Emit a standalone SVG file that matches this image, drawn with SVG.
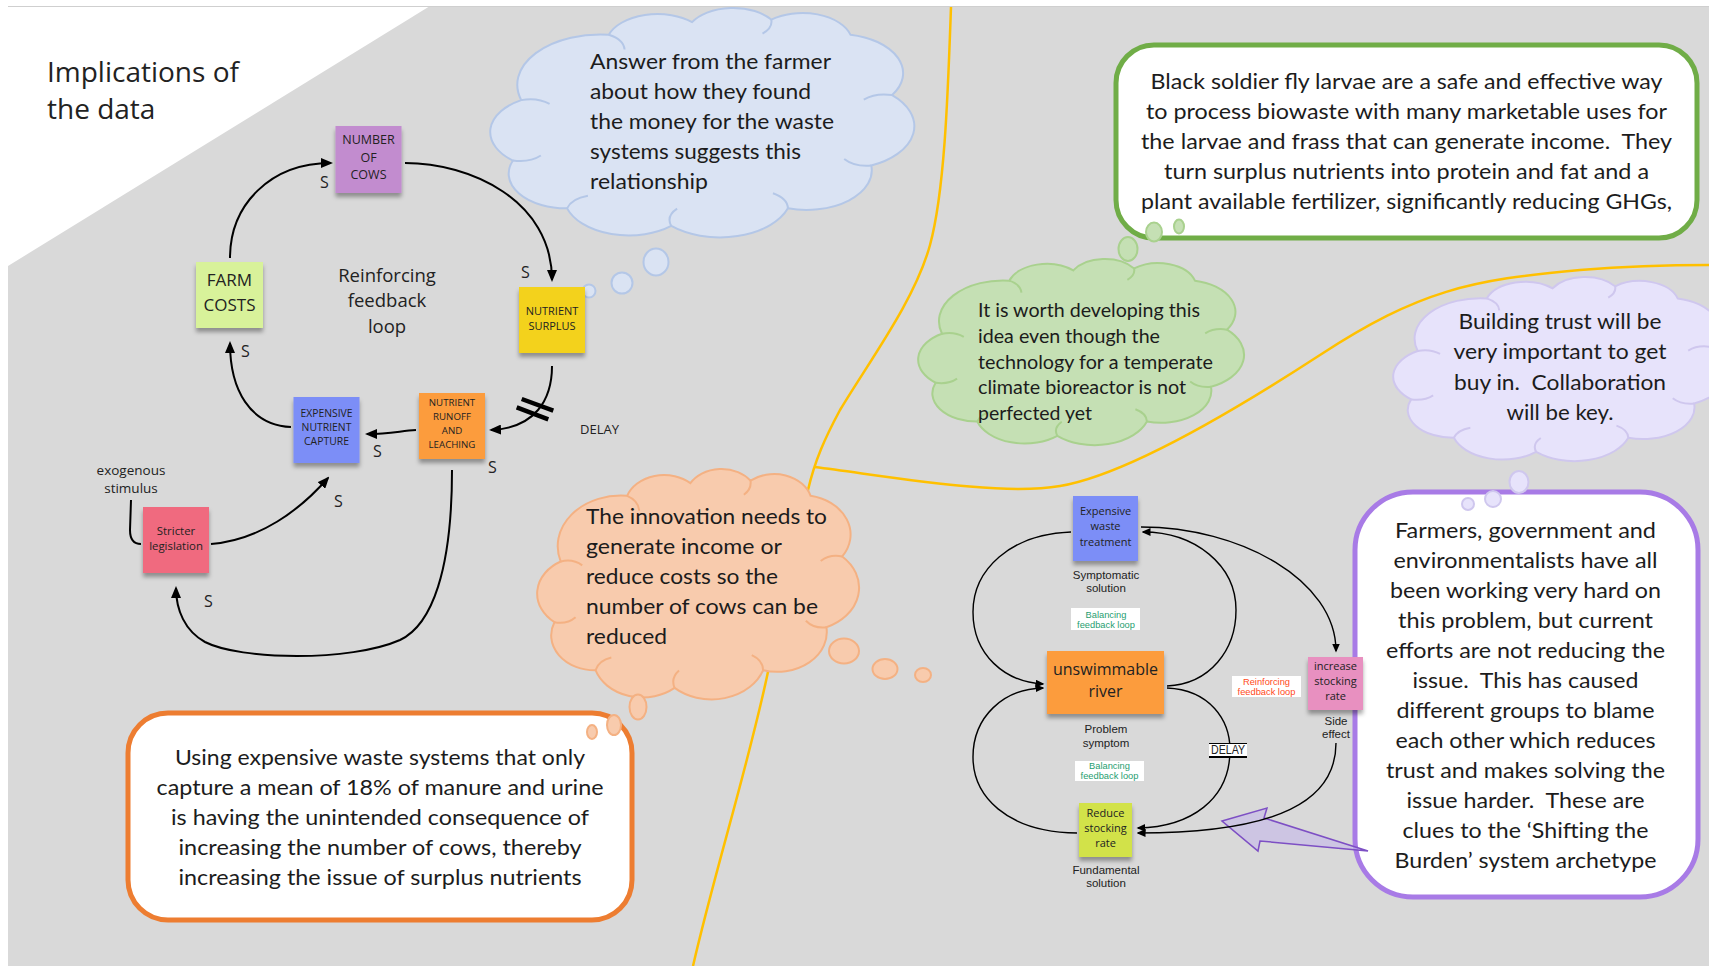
<svg xmlns="http://www.w3.org/2000/svg" width="1709" height="966" viewBox="0 0 1709 966">
<defs>
<style>
.cal{font-family:Lato,"Open Sans","Liberation Sans",sans-serif;fill:#1c1c1c}
.os{font-family:"Open Sans","Liberation Sans",sans-serif;fill:#222}
.ar{font-family:"Liberation Sans",Arial,sans-serif;fill:#222}
.mid{text-anchor:middle}
.pre{white-space:pre}
.link{fill:none;stroke:#000;stroke-width:2}
.link2{fill:none;stroke:#000;stroke-width:1.4}
.yl{fill:none;stroke:#ffc000;stroke-width:2.5}
.cl{vector-effect:non-scaling-stroke;stroke-width:2}
.cla{vector-effect:non-scaling-stroke;stroke-width:2;fill:none}
.note{filter:url(#noteShadow)}
.tag{fill:#fff}
.bal{font-family:"Liberation Sans",Arial,sans-serif;fill:#1f9e70;font-size:9.3px;text-anchor:middle}
.blue{fill:#dae3f3;stroke:#b4c7e7}
.peach{fill:#f8cbad;stroke:#f4b183}
.green{fill:#c5e0b4;stroke:#a9d18e}
.lav{fill:#e7e3fb;stroke:#cfc7ee}
</style>
<marker id="ah" viewBox="0 0 12 10" refX="10" refY="5" markerWidth="12" markerHeight="10" markerUnits="userSpaceOnUse" orient="auto"><path d="M0,0 L12,5 L0,10 Z" fill="#000"/></marker>
<marker id="ahs" viewBox="0 0 9 8" refX="7.5" refY="4" markerWidth="9" markerHeight="8" markerUnits="userSpaceOnUse" orient="auto"><path d="M0,0 L9,4 L0,8 Z" fill="#000"/></marker>
<filter id="noteShadow" x="-15%" y="-15%" width="130%" height="140%"><feDropShadow dx="0" dy="4" stdDeviation="2.2" flood-color="#000" flood-opacity="0.35"/></filter>
<!-- cloud outline in a 100x100 unit box, scaled per bubble -->
<path id="cloudShape" class="cl" d="M6,40 A20,20 0 0 1 27,14 A12.4,12.4 0 0 1 47,9 A11.4,11.4 0 0 1 66,8 A12,12 0 0 1 85,14 A15.6,15.6 0 0 1 95,38 A17,17 0 0 1 90,66 A15.7,15.7 0 0 1 70,83 A17.3,17.3 0 0 1 42,90 A15.6,15.6 0 0 1 17,83 A13.8,13.8 0 0 1 4,64 A14.5,14.5 0 0 1 6,40 Z"/>
<path id="cloudArcs" class="cla" d="M6,40 Q9.8,38.8 12.8,41.5 M27,14 Q30.6,15.9 30.8,19.9 M66,8 Q66.4,11.3 63.9,13.6 M95,38 Q91.1,37 88.2,39.8 M90,66 Q86,66.6 83.5,63.4 M70,83 Q69.9,79 66.4,77 M42,90 Q40.7,86.1 43.4,83.1 M17,83 Q18.1,79.1 22,78 M4,64 Q8,64.9 10.7,62"/>
</defs>

<!-- page -->
<rect x="0" y="0" width="1709" height="966" fill="#fff"/>
<rect x="8" y="6" width="1701" height="960" fill="#d9d9d9"/>
<polygon points="8,6 430,6 8,266" fill="#fff"/>
<line x1="8" y1="6.5" x2="1709" y2="6.5" stroke="#cfcfcf" stroke-width="1"/>

<!-- dividing lines -->
<g id="dividers">
<path class="yl" d="M951,7 C948,90 945,190 930,245 C915,300 870,360 840,410 C825,438 815,460 808,490 C798,540 780,620 769,667 C750,760 715,870 693,966"/>
<path class="yl" d="M815,467 C900,478 1000,496 1060,486 S1220,420 1320,355 S1470,280 1580,270 C1630,266 1680,265 1709,265"/>
</g>

<g id="title">
<text class="os" x="47" y="82" font-size="28" fill="#111">Implications of</text>
<text class="os" x="47" y="119" font-size="28" fill="#111">the data</text>
</g>

<!-- thought clouds -->
<g id="cloud-farmer">
<use href="#cloudShape" class="blue" transform="translate(496.25,-0.56) scale(4.167,2.517)"/>
<use href="#cloudArcs" stroke="#b4c7e7" transform="translate(496.25,-0.56) scale(4.167,2.517)"/>
<ellipse class="blue" cx="656" cy="262" rx="12.5" ry="13.5" stroke-width="2"/>
<ellipse class="blue" cx="622" cy="283" rx="10.5" ry="10.5" stroke-width="2"/>
<ellipse class="blue" cx="589" cy="291" rx="6.5" ry="6.5" stroke-width="2"/>
<text class="cal" x="590" y="69" font-size="22" textLength="241" lengthAdjust="spacingAndGlyphs">Answer from the farmer</text>
<text class="cal" x="590" y="99" font-size="22" textLength="221" lengthAdjust="spacingAndGlyphs">about how they found</text>
<text class="cal" x="590" y="129" font-size="22" textLength="244" lengthAdjust="spacingAndGlyphs">the money for the waste</text>
<text class="cal" x="590" y="159" font-size="22" textLength="211" lengthAdjust="spacingAndGlyphs">systems suggests this</text>
<text class="cal" x="590" y="188.5" font-size="22" textLength="118" lengthAdjust="spacingAndGlyphs">relationship</text>
</g>

<g id="cloud-innovation">
<use href="#cloudShape" class="peach" transform="translate(541.74,460.41) scale(3.163,2.528)"/>
<use href="#cloudArcs" stroke="#f4b183" transform="translate(541.74,460.41) scale(3.163,2.528)"/>
<ellipse class="peach" cx="844" cy="651" rx="15" ry="12.5" stroke-width="2"/>
<ellipse class="peach" cx="885" cy="669" rx="12.5" ry="10" stroke-width="2"/>
<ellipse class="peach" cx="923" cy="675" rx="8" ry="7" stroke-width="2"/>
<text class="cal" x="586" y="524" font-size="22" textLength="241" lengthAdjust="spacingAndGlyphs">The innovation needs to</text>
<text class="cal" x="586" y="554" font-size="22" textLength="196" lengthAdjust="spacingAndGlyphs">generate income or</text>
<text class="cal" x="586" y="584" font-size="22" textLength="192" lengthAdjust="spacingAndGlyphs">reduce costs so the</text>
<text class="cal" x="586" y="614" font-size="22" textLength="232" lengthAdjust="spacingAndGlyphs">number of cows can be</text>
<text class="cal" x="586" y="644" font-size="22" textLength="81" lengthAdjust="spacingAndGlyphs">reduced</text>
</g>

<g id="cloud-bioreactor">
<use href="#cloudShape" class="green" transform="translate(922.8,252.06) scale(3.202,2.042)"/>
<use href="#cloudArcs" stroke="#a9d18e" transform="translate(922.8,252.06) scale(3.202,2.042)"/>
<text class="cal" x="978" y="317" font-size="18.5" textLength="222" lengthAdjust="spacingAndGlyphs">It is worth developing this</text>
<text class="cal" x="978" y="343" font-size="18.5" textLength="182" lengthAdjust="spacingAndGlyphs">idea even though the</text>
<text class="cal" x="978" y="368.5" font-size="18.5" textLength="235" lengthAdjust="spacingAndGlyphs">technology for a temperate</text>
<text class="cal" x="978" y="394" font-size="18.5" textLength="208" lengthAdjust="spacingAndGlyphs">climate bioreactor is not</text>
<text class="cal" x="978" y="420" font-size="18.5" textLength="114" lengthAdjust="spacingAndGlyphs">perfected yet</text>
</g>

<g id="cloud-trust">
<use href="#cloudShape" class="lav" transform="translate(1397.94,270.13) scale(3.291,2.02)"/>
<use href="#cloudArcs" stroke="#cfc7ee" transform="translate(1397.94,270.13) scale(3.291,2.02)"/>
<text class="cal mid" x="1560" y="328.5" font-size="22" textLength="203" lengthAdjust="spacingAndGlyphs">Building trust will be</text>
<text class="cal mid" x="1560" y="359" font-size="22" textLength="213" lengthAdjust="spacingAndGlyphs">very important to get</text>
<text class="cal mid pre" x="1560" y="389.5" font-size="22" textLength="212" lengthAdjust="spacingAndGlyphs">buy in.  Collaboration</text>
<text class="cal mid" x="1560" y="419.5" font-size="22" textLength="107" lengthAdjust="spacingAndGlyphs">will be key.</text>
</g>

<!-- callout boxes -->
<g id="box-waste-systems">
<rect x="128" y="713" width="504" height="207" rx="40" fill="#fff" stroke="#ed7d31" stroke-width="5"/>
<ellipse class="peach" cx="638" cy="707" rx="8.5" ry="12.5" stroke-width="2"/>
<ellipse class="peach" cx="614" cy="725" rx="7" ry="10" stroke-width="2"/>
<ellipse class="peach" cx="592" cy="732" rx="5" ry="7" stroke-width="2"/>
<text class="cal mid" x="380" y="765" font-size="21" textLength="410" lengthAdjust="spacingAndGlyphs">Using expensive waste systems that only</text>
<text class="cal mid" x="380" y="795" font-size="21" textLength="447" lengthAdjust="spacingAndGlyphs">capture a mean of 18% of manure and urine</text>
<text class="cal mid" x="380" y="825" font-size="21" textLength="418" lengthAdjust="spacingAndGlyphs">is having the unintended consequence of</text>
<text class="cal mid" x="380" y="855" font-size="21" textLength="403" lengthAdjust="spacingAndGlyphs">increasing the number of cows, thereby</text>
<text class="cal mid" x="380" y="885" font-size="21" textLength="403" lengthAdjust="spacingAndGlyphs">increasing the issue of surplus nutrients</text>
</g>

<g id="box-larvae">
<rect x="1116" y="45" width="581" height="193" rx="38" fill="#fff" stroke="#70ad47" stroke-width="5"/>
<ellipse class="green" cx="1179" cy="226.5" rx="5" ry="7" stroke-width="2"/>
<ellipse class="green" cx="1154" cy="232" rx="8" ry="9.5" stroke-width="2"/>
<ellipse class="green" cx="1128" cy="249" rx="9.5" ry="12" stroke-width="2"/>
<text class="cal mid" x="1406.5" y="89" font-size="21" textLength="512" lengthAdjust="spacingAndGlyphs">Black soldier fly larvae are a safe and effective way</text>
<text class="cal mid" x="1406.5" y="119" font-size="21" textLength="521" lengthAdjust="spacingAndGlyphs">to process biowaste with many marketable uses for</text>
<text class="cal mid pre" x="1406.5" y="149" font-size="21" textLength="531" lengthAdjust="spacingAndGlyphs">the larvae and frass that can generate income.  They</text>
<text class="cal mid" x="1406.5" y="179" font-size="21" textLength="485" lengthAdjust="spacingAndGlyphs">turn surplus nutrients into protein and fat and a</text>
<text class="cal mid" x="1406.5" y="209" font-size="21" textLength="531" lengthAdjust="spacingAndGlyphs">plant available fertilizer, significantly reducing GHGs,</text>
</g>

<g id="box-blame">
<rect x="1355" y="492" width="343" height="405" rx="58" fill="#fff" stroke="#a87be6" stroke-width="5"/>
<ellipse class="lav" cx="1519" cy="482" rx="9.5" ry="11" stroke-width="2"/>
<ellipse class="lav" cx="1493" cy="499" rx="8" ry="8" stroke-width="2"/>
<ellipse class="lav" cx="1468" cy="504" rx="6" ry="6" stroke-width="2"/>
<text class="cal mid" x="1525.5" y="538" font-size="21" textLength="261" lengthAdjust="spacingAndGlyphs">Farmers, government and</text>
<text class="cal mid" x="1525.5" y="568" font-size="21" textLength="264" lengthAdjust="spacingAndGlyphs">environmentalists have all</text>
<text class="cal mid" x="1525.5" y="598" font-size="21" textLength="271" lengthAdjust="spacingAndGlyphs">been working very hard on</text>
<text class="cal mid" x="1525.5" y="628" font-size="21" textLength="255" lengthAdjust="spacingAndGlyphs">this problem, but current</text>
<text class="cal mid" x="1525.5" y="658" font-size="21" textLength="279" lengthAdjust="spacingAndGlyphs">efforts are not reducing the</text>
<text class="cal mid pre" x="1525.5" y="688" font-size="21" textLength="226" lengthAdjust="spacingAndGlyphs">issue.  This has caused</text>
<text class="cal mid" x="1525.5" y="718" font-size="21" textLength="258" lengthAdjust="spacingAndGlyphs">different groups to blame</text>
<text class="cal mid" x="1525.5" y="748" font-size="21" textLength="260" lengthAdjust="spacingAndGlyphs">each other which reduces</text>
<text class="cal mid" x="1525.5" y="778" font-size="21" textLength="279" lengthAdjust="spacingAndGlyphs">trust and makes solving the</text>
<text class="cal mid pre" x="1525.5" y="808" font-size="21" textLength="238" lengthAdjust="spacingAndGlyphs">issue harder.  These are</text>
<text class="cal mid" x="1525.5" y="838" font-size="21" textLength="246" lengthAdjust="spacingAndGlyphs">clues to the ‘Shifting the</text>
<text class="cal mid" x="1525.5" y="868" font-size="21" textLength="262" lengthAdjust="spacingAndGlyphs">Burden’ system archetype</text>
</g>

<g id="pointer-arrow">
<polygon points="1222,821 1267,808 1264,818 1368,851 1260,841 1258,851" fill="#c5b8ea" fill-opacity="0.6" stroke="#7d4fc4" stroke-width="1.5" stroke-linejoin="miter"/>
</g>

<!-- connectors -->
<g id="connectors">
<path class="link" marker-end="url(#ah)" d="M230,258 C230,205 270,163 331,163"/>
<path class="link" marker-end="url(#ah)" d="M405,163 C470,163 552,200 552,280"/>
<path class="link" marker-end="url(#ah)" d="M552,366 C552,400 535,428 491,430"/>
<path class="link" marker-end="url(#ah)" d="M416,430 C400,431 390,434 367,434"/>
<path class="link" marker-end="url(#ah)" d="M291,427 C250,425 230,390 230,343"/>
<path class="link" marker-end="url(#ah)" d="M452,470 C452,570 432,625 400,640 C350,662 240,660 205,642 C185,631 176,610 176,588"/>
<path class="link" marker-end="url(#ah)" d="M211,544 C260,540 300,510 328,478"/>
<path class="link" d="M131,500 L130,530 C130,540 134,544 141,544"/>
<line x1="521.7" y1="399" x2="553.3" y2="410.7" stroke="#000" stroke-width="4.5"/>
<line x1="516.7" y1="407.3" x2="548.3" y2="419.3" stroke="#000" stroke-width="4.5"/>

<path class="link2" marker-end="url(#ahs)" d="M1071,532 C1010,534 973,570 973,612 C973,655 1005,682 1043,684"/>
<path class="link2" marker-end="url(#ahs)" d="M1167,686 C1210,684 1236,650 1236,610 C1236,565 1195,532 1143,532"/>
<path class="link2" marker-end="url(#ahs)" d="M1077,833 C1005,832 973,795 973,757 C973,717 1003,689 1043,688"/>
<path class="link2" marker-end="url(#ahs)" d="M1167,688 C1210,690 1230,720 1230,750 C1230,800 1190,827 1138,828"/>
<path class="link2" marker-end="url(#ahs)" d="M1141,527 C1240,527 1336,580 1336,651"/>
<path class="link2" marker-end="url(#ahs)" d="M1336,743 C1336,800 1280,833 1138,833"/>
</g>

<!-- loop labels -->
<g id="labels-left">
<text class="os mid" x="387" y="282" font-size="18.5">Reinforcing</text>
<text class="os mid" x="387" y="307" font-size="18.5">feedback</text>
<text class="os mid" x="387" y="333" font-size="18.5">loop</text>
<text class="os" x="320" y="188" font-size="16">S</text>
<text class="os" x="521" y="278" font-size="16">S</text>
<text class="os" x="241" y="357" font-size="16">S</text>
<text class="os" x="373" y="457" font-size="16">S</text>
<text class="os" x="488" y="473" font-size="16">S</text>
<text class="os" x="334" y="507" font-size="16">S</text>
<text class="os" x="204" y="607" font-size="16">S</text>
<text class="os" x="580" y="434" font-size="13">DELAY</text>
<text class="os mid" x="131" y="475" font-size="13.5">exogenous</text>
<text class="os mid" x="131" y="493" font-size="13.5">stimulus</text>
</g>

<!-- left causal loop nodes -->
<g id="node-cows">
<rect class="note" x="335.5" y="126" width="66" height="67" fill="#c28ccf"/>
<text class="os mid" x="368.5" y="144" font-size="12.5">NUMBER</text>
<text class="os mid" x="368.5" y="162" font-size="12.5">OF</text>
<text class="os mid" x="368.5" y="179" font-size="12.5">COWS</text>
</g>
<g id="node-farm-costs">
<rect class="note" x="196" y="262" width="67" height="66" fill="#d8f29a"/>
<text class="os mid" x="229.5" y="286" font-size="17">FARM</text>
<text class="os mid" x="229.5" y="311" font-size="17">COSTS</text>
</g>
<g id="node-surplus">
<rect class="note" x="519" y="287" width="66" height="66" fill="#f3d21c"/>
<text class="os mid" x="552" y="315" font-size="11">NUTRIENT</text>
<text class="os mid" x="552" y="330" font-size="11">SURPLUS</text>
</g>
<g id="node-capture">
<rect class="note" x="293.5" y="397" width="66" height="66" fill="#7b8ef7"/>
<text class="os mid" x="326.5" y="417" font-size="10.4">EXPENSIVE</text>
<text class="os mid" x="326.5" y="431" font-size="10.4">NUTRIENT</text>
<text class="os mid" x="326.5" y="445" font-size="10.4">CAPTURE</text>
</g>
<g id="node-runoff">
<rect class="note" x="419" y="393" width="66" height="66" fill="#fc9c3d"/>
<text class="os mid" x="452" y="406" font-size="9.7">NUTRIENT</text>
<text class="os mid" x="452" y="420" font-size="9.7">RUNOFF</text>
<text class="os mid" x="452" y="434" font-size="9.7">AND</text>
<text class="os mid" x="452" y="448" font-size="9.7">LEACHING</text>
</g>
<g id="node-legislation">
<rect class="note" x="143" y="507" width="66" height="66" fill="#f06b7f"/>
<text class="os mid" x="176" y="535" font-size="11.4">Stricter</text>
<text class="os mid" x="176" y="550" font-size="11.4">legislation</text>
</g>

<!-- shifting-the-burden nodes -->
<g id="node-waste-treatment">
<rect class="note" x="1073" y="496" width="65" height="65" fill="#7b8ef7"/>
<text class="os mid" x="1105.5" y="515" font-size="11">Expensive</text>
<text class="os mid" x="1105.5" y="530" font-size="11">waste</text>
<text class="os mid" x="1105.5" y="546" font-size="11">treatment</text>
<text class="ar mid" x="1106" y="579" font-size="11.5">Symptomatic</text>
<text class="ar mid" x="1106" y="592" font-size="11.5">solution</text>
</g>
<g id="node-river">
<rect class="note" x="1047" y="651" width="117" height="63" fill="#fc9c3d"/>
<text class="os mid" x="1105.5" y="675" font-size="16">unswimmable</text>
<text class="os mid" x="1105.5" y="697" font-size="16">river</text>
<text class="ar mid" x="1106" y="733" font-size="11.5">Problem</text>
<text class="ar mid" x="1106" y="747" font-size="11.5">symptom</text>
</g>
<g id="node-reduce-stocking">
<rect class="note" x="1079" y="803" width="53" height="54" fill="#d2e24a"/>
<text class="os mid" x="1105.5" y="817" font-size="11">Reduce</text>
<text class="os mid" x="1105.5" y="832" font-size="11">stocking</text>
<text class="os mid" x="1105.5" y="847" font-size="11">rate</text>
<text class="ar mid" x="1106" y="874" font-size="11.5">Fundamental</text>
<text class="ar mid" x="1106" y="887" font-size="11.5">solution</text>
</g>
<g id="node-increase-stocking">
<rect class="note" x="1308" y="657" width="55" height="53" fill="#e890c0"/>
<text class="os mid" x="1335.5" y="670" font-size="11">increase</text>
<text class="os mid" x="1335.5" y="685" font-size="11">stocking</text>
<text class="os mid" x="1335.5" y="700" font-size="11">rate</text>
<text class="ar mid" x="1336" y="725" font-size="11.5">Side</text>
<text class="ar mid" x="1336" y="738" font-size="11.5">effect</text>
</g>

<g id="loop-tags">
<rect class="tag" x="1071" y="608" width="69" height="22"/>
<text class="bal" x="1106" y="617.5">Balancing</text>
<text class="bal" x="1106" y="628">feedback loop</text>
<rect class="tag" x="1075" y="761" width="69" height="20"/>
<text class="bal" x="1109.5" y="768.5">Balancing</text>
<text class="bal" x="1109.5" y="778.5">feedback loop</text>
<rect class="tag" x="1232" y="676" width="69" height="21"/>
<text class="bal" x="1266.5" y="684.5" fill="#ff4a22" style="fill:#ff4a22">Reinforcing</text>
<text class="bal" x="1266.5" y="695" style="fill:#ff4a22">feedback loop</text>
<rect class="tag" x="1209" y="743" width="38" height="14"/>
<line x1="1209" y1="743.5" x2="1247" y2="743.5" stroke="#000" stroke-width="1"/>
<line x1="1209" y1="757" x2="1247" y2="757" stroke="#000" stroke-width="2"/>
<text class="ar mid" x="1228" y="754" font-size="12" fill="#000" textLength="34" lengthAdjust="spacingAndGlyphs">DELAY</text>
</g>
</svg>
